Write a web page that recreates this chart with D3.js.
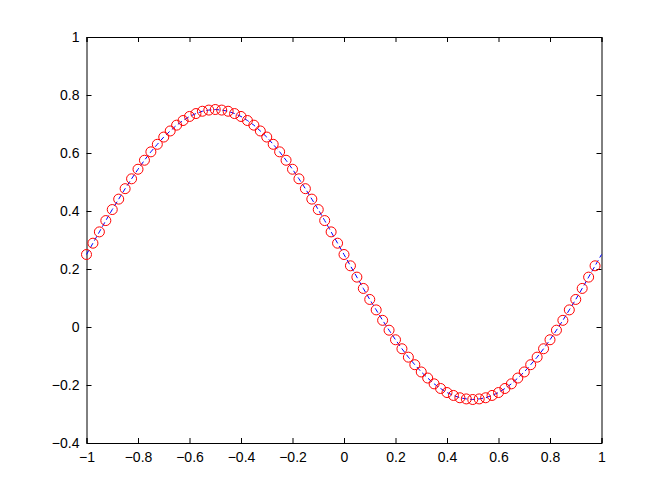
<!DOCTYPE html>
<html>
<head>
<meta charset="utf-8">
<script src="https://cdn.jsdelivr.net/npm/d3@7"></script>
<style>
  body { margin: 0; background: #fff; }
  text { font-family: "Liberation Sans", Arial, sans-serif; font-size: 14px; fill: #000; }
</style>
</head>
<body>
<div id="vis"></div>
<script>
// Grösse der Figur
var width = 664;
var height = 500;

// Achsenbereich (wie MATLAB default position)
var margin = {left: 86.5, right: 62.5, top: 37, bottom: 57};

// Stützstellen auf der x-Achse
var xs = [-1, -0.975, -0.95, -0.925, -0.9, -0.875, -0.85, -0.825, -0.8, -0.775,
    -0.75, -0.725, -0.7, -0.675, -0.65, -0.625, -0.6, -0.575, -0.55, -0.525,
    -0.5, -0.475, -0.45, -0.425, -0.4, -0.375, -0.35, -0.325, -0.3, -0.275,
    -0.25, -0.225, -0.2, -0.175, -0.15, -0.125, -0.1, -0.075, -0.05, -0.025,
    0, 0.025, 0.05, 0.075, 0.1, 0.125, 0.15, 0.175, 0.2, 0.225,
    0.25, 0.275, 0.3, 0.325, 0.35, 0.375, 0.4, 0.425, 0.45, 0.475,
    0.5, 0.525, 0.55, 0.575, 0.6, 0.625, 0.65, 0.675, 0.7, 0.725,
    0.75, 0.775, 0.8, 0.825, 0.85, 0.875, 0.9, 0.925, 0.95, 0.975, 1];

// Werte der Kurve
var ys = [0.250, 0.289, 0.328, 0.367, 0.405, 0.441, 0.477, 0.511, 0.544, 0.575,
    0.604, 0.630, 0.655, 0.676, 0.696, 0.712, 0.726, 0.736, 0.744, 0.748,
    0.750, 0.748, 0.744, 0.736, 0.726, 0.712, 0.696, 0.676, 0.655, 0.630,
    0.604, 0.575, 0.544, 0.511, 0.477, 0.441, 0.405, 0.367, 0.328, 0.289,
    0.250, 0.211, 0.172, 0.133, 0.095, 0.059, 0.023, -0.011, -0.044, -0.075,
    -0.104, -0.130, -0.155, -0.176, -0.196, -0.212, -0.226, -0.236, -0.244, -0.248,
    -0.250, -0.248, -0.244, -0.236, -0.226, -0.212, -0.196, -0.176, -0.155, -0.130,
    -0.104, -0.075, -0.044, -0.011, 0.023, 0.059, 0.095, 0.133, 0.172, 0.211, 0.250];

// Anzahl Kreise (letzter Punkt x=1 nur als Linie)
var nMarkers = 80;

// Achsenbeschriftung
var xTicks = [-1, -0.8, -0.6, -0.4, -0.2, 0, 0.2, 0.4, 0.6, 0.8, 1];
var yTicks = [-0.4, -0.2, 0, 0.2, 0.4, 0.6, 0.8, 1];

var x = d3.scaleLinear().domain([-1, 1]).range([margin.left, width - margin.right]);
var y = d3.scaleLinear().domain([-0.4, 1]).range([height - margin.bottom, margin.top]);

var fmt = function (d) {
    return String(d).replace('-', '\u2212');
};

var svg = d3.select('#vis').append('svg')
    .attr('width', width)
    .attr('height', height);

var tickLen = 5;

// Achsen mit Ticks nach innen
svg.append('g')
    .attr('transform', 'translate(0,' + y.range()[0] + ')')
    .call(d3.axisBottom(x).tickValues(xTicks).tickSize(-tickLen).tickPadding(8).tickFormat(fmt))
    .call(function (g) { g.selectAll('text').attr('dy', '0.8em'); });

svg.append('g')
    .attr('transform', 'translate(0,' + y.range()[1] + ')')
    .call(d3.axisTop(x).tickValues(xTicks).tickSize(-tickLen).tickFormat(''));

svg.append('g')
    .attr('transform', 'translate(' + x.range()[0] + ',0)')
    .call(d3.axisLeft(y).tickValues(yTicks).tickSize(-tickLen).tickPadding(7).tickFormat(fmt));

svg.append('g')
    .attr('transform', 'translate(' + x.range()[1] + ',0)')
    .call(d3.axisRight(y).tickValues(yTicks).tickSize(-tickLen).tickFormat(''));

svg.selectAll('.domain').attr('stroke', '#000').attr('stroke-width', 1);
svg.selectAll('.tick line').attr('stroke', '#000');
svg.selectAll('.tick text')
    .style('font-family', '"Liberation Sans", Arial, sans-serif')
    .style('font-size', '14px');

var pts = xs.map(function (d, i) { return {x: d, y: ys[i]}; });

// Kurve gestrichelt blau
svg.append('path')
    .datum(pts)
    .attr('fill', 'none')
    .attr('stroke', '#0000ff')
    .attr('stroke-width', 1)
    .attr('stroke-dasharray', '5,3')
    .attr('d', d3.line().x(function (d) { return x(d.x); }).y(function (d) { return y(d.y); }));

// rote Kreise
svg.selectAll('.marker')
    .data(pts.slice(0, nMarkers))
    .enter().append('circle')
    .attr('class', 'marker')
    .attr('cx', function (d) { return x(d.x); })
    .attr('cy', function (d) { return y(d.y); })
    .attr('r', 5)
    .attr('fill', 'none')
    .attr('stroke', '#ff0000')
    .attr('stroke-width', 1);
</script>
</body>
</html>
